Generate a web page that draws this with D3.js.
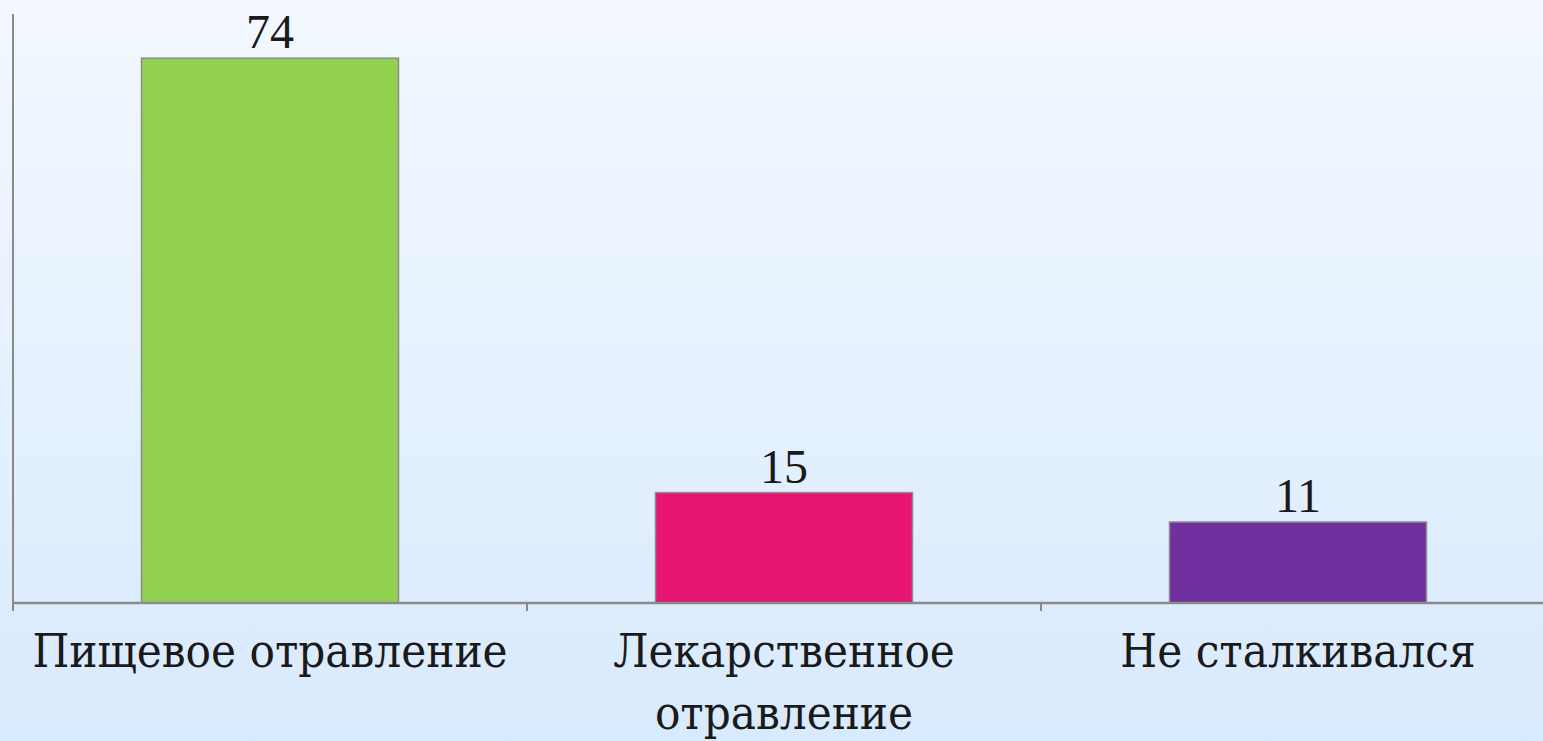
<!DOCTYPE html>
<html>
<head>
<meta charset="utf-8">
<script src="https://cdn.jsdelivr.net/npm/d3@7"></script>
<style>
  html, body { margin: 0; padding: 0; overflow: hidden; }
  text { font-family: "Liberation Serif", "DejaVu Serif", serif; fill: #1a1a1a; }
  text.cat { font-family: "DejaVu Serif", serif; font-stretch: condensed; }
</style>
</head>
<body>
<div id="chart"></div>
<script>
var categories = ["Пищевое отравление", "Лекарственное отравление", "Не сталкивался"];
var values = [74, 15, 11];
var barColors = ["#92D050", "#E61572", "#7030A0"];
var yMax = 80;

var W = 1543, H = 741;
var margin = { top: 14, left: 13, bottom: 138 },
    plotBottom = H - margin.bottom;

var svg = d3.select("#chart").append("svg")
    .attr("width", W)
    .attr("height", H);

// background gradient
var grad = svg.append("defs").append("linearGradient")
    .attr("id", "bg")
    .attr("x1", 0).attr("y1", 0).attr("x2", 0).attr("y2", 1);
grad.append("stop").attr("offset", "0%").attr("stop-color", "#F3F8FF");
grad.append("stop").attr("offset", "100%").attr("stop-color", "#D8EAFD");
svg.append("rect").attr("width", W).attr("height", H).attr("fill", "url(#bg)");

var x = d3.scaleBand()
    .domain(categories)
    .range([margin.left, margin.left + 3 * 514])
    .paddingInner(0.5)
    .paddingOuter(0.25);

var y = d3.scaleLinear()
    .domain([0, yMax])
    .range([plotBottom, margin.top]);

var step = x.step();

// bars
svg.selectAll(".bar")
    .data(values)
    .enter().append("rect")
    .attr("class", "bar")
    .attr("x", function(d, i) { return x(categories[i]); })
    .attr("y", function(d) { return y(d); })
    .attr("width", x.bandwidth())
    .attr("height", function(d) { return y(0) - y(d); })
    .attr("fill", function(d, i) { return barColors[i]; })
    .attr("stroke", "#8c8c8c")
    .attr("stroke-width", 1.5);

// value labels
svg.selectAll(".val")
    .data(values)
    .enter().append("text")
    .attr("class", "val")
    .attr("x", function(d, i) { return x(categories[i]) + x.bandwidth() / 2; })
    .attr("y", function(d) { return y(d) - 10; })
    .attr("text-anchor", "middle")
    .style("font-size", "48px")
    .text(function(d) { return d; });

// y axis line
svg.append("line")
    .attr("x1", margin.left).attr("x2", margin.left)
    .attr("y1", y(yMax)).attr("y2", y(0) + 8)
    .attr("stroke", "#8a8a8a").attr("stroke-width", 2);

// x axis line
svg.append("line")
    .attr("x1", margin.left).attr("x2", W)
    .attr("y1", y(0)).attr("y2", y(0))
    .attr("stroke", "#8a8a8a").attr("stroke-width", 2.5);

// ticks between categories
svg.selectAll(".tick")
    .data(d3.range(1, categories.length + 1))
    .enter().append("line")
    .attr("class", "tick")
    .attr("x1", function(i) { return x.range()[0] + i * step; })
    .attr("x2", function(i) { return x.range()[0] + i * step; })
    .attr("y1", y(0)).attr("y2", y(0) + 8)
    .attr("stroke", "#8a8a8a").attr("stroke-width", 2);

// category labels
var labels = svg.selectAll(".cat")
    .data(categories)
    .enter().append("text")
    .attr("class", "cat")
    .attr("x", function(d) { return x(d) + x.bandwidth() / 2; })
    .attr("y", y(0) + 64)
    .attr("text-anchor", "middle")
    .style("font-size", "47px")
    .text(function(d) { return d; });

labels.each(function(d) {
    var t = d3.select(this);
    if (this.getComputedTextLength() > step) {
        var words = d.split(" ");
        var cx = t.attr("x");
        t.text(null);
        words.forEach(function(w, k) {
            t.append("tspan").attr("x", cx).attr("dy", k === 0 ? 0 : 62).text(w);
        });
    }
});
</script>
</body>
</html>
